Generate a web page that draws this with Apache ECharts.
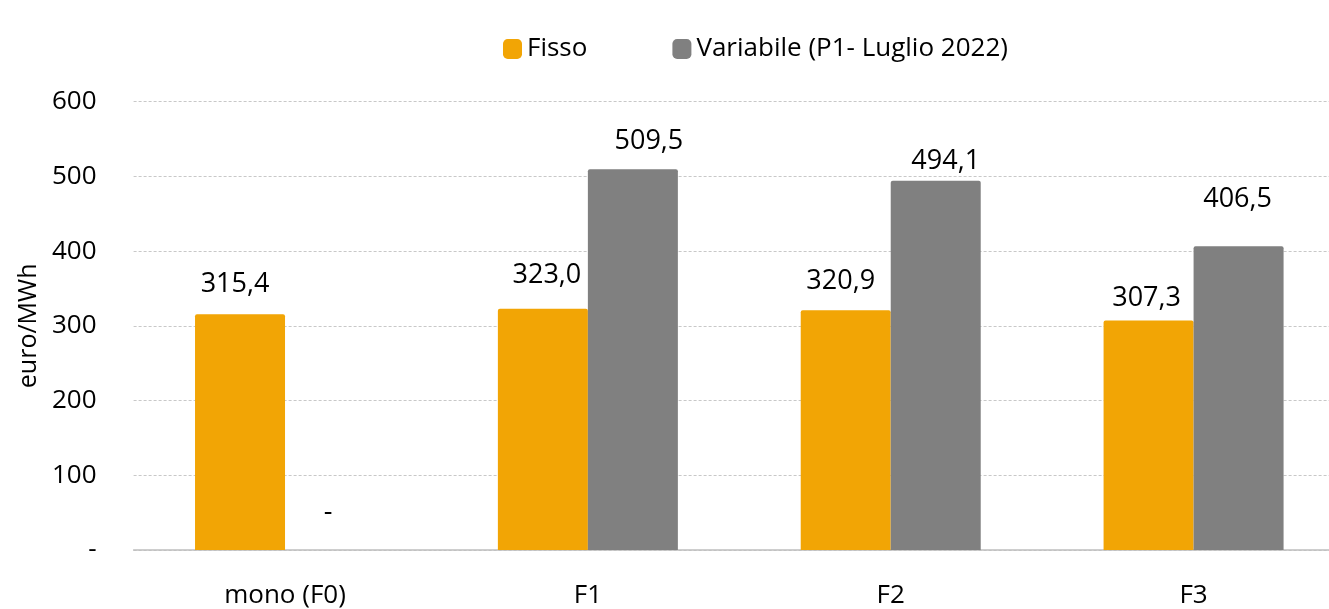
<!DOCTYPE html>
<html>
<head>
<meta charset="utf-8">
<script src="https://cdn.jsdelivr.net/npm/echarts@6/dist/echarts.min.js"></script>
<style>
html,body{margin:0;padding:0;background:#fff;overflow:hidden;width:1329px;height:609px;}
#c{width:1345px;height:609px;}
</style>
</head>
<body>
<div id="c"></div>
<script>
const categories = ['mono (F0)', 'F1', 'F2', 'F3'];
const seriesNames = ['Fisso', 'Variabile (P1- Luglio 2022)'];
const fisso = [315.4, 323.0, 320.9, 307.3];
const variabile = [0, 509.5, 494.1, 406.5];
const yTicks = [0, 100, 200, 300, 400, 500, 600];

// label placement tweaks (style only)
const fissoLabelPos = [[-5, 17], [4, 20], [-5, 15], [-2, 9]];
const variabileLabelPos = [[-2, 24], [16, 15], [10, 6], [-1, 33]];

const FONT = 'Open Sans';
const fmt = v => v === 0 ? '-' : v.toFixed(1).replace('.', ',');

function buildData(vals, pos) {
  return vals.map((v, i) => ({
    value: v,
    label: { distance: pos[i][1], offset: [pos[i][0], 0] }
  }));
}

const chart = echarts.init(document.getElementById('c'));
chart.setOption({
  animation: false,
  textStyle: { fontFamily: FONT },
  legend: {
    data: seriesNames,
    left: 498,
    top: 31,
    itemWidth: 19,
    itemHeight: 20,
    itemGap: 85,
    icon: 'roundRect',
    textStyle: { fontFamily: FONT, fontSize: 26, color: '#000' }
  },
  grid: { left: 133.6, right: 0, top: 101.7, bottom: 58, containLabel: false },
  xAxis: {
    type: 'category',
    data: categories,
    axisLine: { lineStyle: { color: '#bfbfbf', width: 1.5 } },
    axisTick: { show: false },
    axisLabel: { fontFamily: FONT, fontSize: 26, color: '#000', margin: 33 }
  },
  yAxis: {
    type: 'value',
    min: yTicks[0],
    max: yTicks[yTicks.length - 1],
    interval: yTicks[1] - yTicks[0],
    name: 'euro/MWh',
    nameLocation: 'middle',
    nameGap: 83,
    nameTextStyle: { fontFamily: FONT, fontSize: 25, color: '#000' },
    axisLine: { show: false },
    axisTick: { show: false },
    axisLabel: {
      fontFamily: FONT, fontSize: 26, color: '#000', margin: 37,
      formatter: v => v === 0 ? '-' : String(v)
    },
    splitLine: { lineStyle: { color: '#c8c8c8', type: [3, 2], width: 1 } }
  },
  series: [
    {
      name: seriesNames[0],
      type: 'bar',
      barWidth: 90,
      barGap: '0%',
      data: buildData(fisso, fissoLabelPos),
      itemStyle: { color: '#F2A505', borderRadius: [2, 2, 0, 0] },
      label: {
        show: true, position: 'top', fontFamily: FONT, fontSize: 27, color: '#000',
        formatter: p => fmt(p.value)
      }
    },
    {
      name: seriesNames[1],
      type: 'bar',
      barWidth: 90,
      data: buildData(variabile, variabileLabelPos),
      itemStyle: { color: '#808080', borderRadius: [2, 2, 0, 0] },
      label: {
        show: true, position: 'top', fontFamily: FONT, fontSize: 27, color: '#000',
        formatter: p => fmt(p.value)
      }
    }
  ]
});
</script>
</body>
</html>
